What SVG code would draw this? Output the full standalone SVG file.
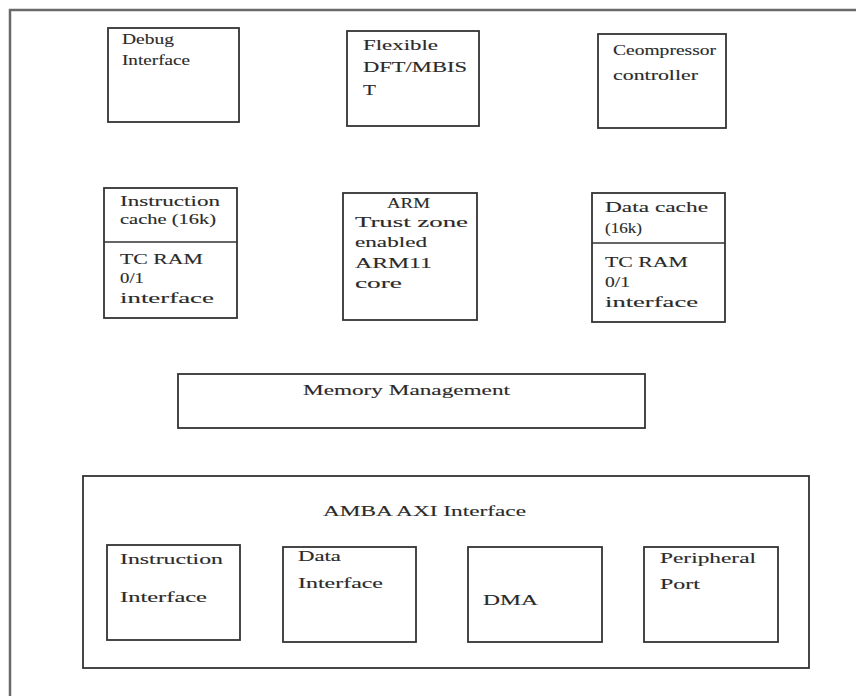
<svg xmlns="http://www.w3.org/2000/svg" width="856" height="696" viewBox="0 0 856 696">
<style>
.box{fill:#fff;stroke:#333;stroke-width:1.8}
.div{stroke:#333;stroke-width:1.6}
.frame{fill:none;stroke:#6a6a6a;stroke-width:2.5}
text{font-family:"Liberation Serif","Times New Roman",serif;font-size:15px;fill:#2a2a2a;stroke:#2a2a2a;stroke-width:0.12}
</style>
<rect width="856" height="696" fill="#fff"/>
<path class="frame" d="M10,696 V10 H856"/>
<g id="connectors"/>
<g id="debug">
<rect class="box" x="108" y="28" width="131" height="94"/>
<text x="122" y="44" font-size="14" textLength="52" lengthAdjust="spacingAndGlyphs">Debug</text>
<text x="122" y="65" font-size="14" textLength="68" lengthAdjust="spacingAndGlyphs">Interface</text>
</g>
<g id="dft">
<rect class="box" x="347" y="31" width="132" height="95"/>
<text x="363" y="50" font-size="16" textLength="75" lengthAdjust="spacingAndGlyphs">Flexible</text>
<text x="363" y="72" font-size="16" textLength="104" lengthAdjust="spacingAndGlyphs">DFT/MBIS</text>
<text x="363" y="95" font-size="16" textLength="13" lengthAdjust="spacingAndGlyphs">T</text>
</g>
<g id="ceompressor">
<rect class="box" x="598" y="34" width="128" height="94"/>
<text x="613" y="55" textLength="103" lengthAdjust="spacingAndGlyphs">Ceompressor</text>
<text x="613" y="80" textLength="85" lengthAdjust="spacingAndGlyphs">controller</text>
</g>
<g id="icache">
<rect class="box" x="104" y="188" width="133" height="130"/>
<line class="div" x1="104" y1="242" x2="237" y2="242"/>
<text x="120" y="206" textLength="100" lengthAdjust="spacingAndGlyphs">Instruction</text>
<text x="120" y="224" textLength="96" lengthAdjust="spacingAndGlyphs">cache (16k)</text>
<text x="120" y="264" textLength="83" lengthAdjust="spacingAndGlyphs">TC RAM</text>
<text x="120" y="283" textLength="24" lengthAdjust="spacingAndGlyphs">0/1</text>
<text x="120" y="303" textLength="94" lengthAdjust="spacingAndGlyphs">interface</text>
</g>
<g id="arm">
<rect class="box" x="343" y="193" width="134" height="127"/>
<text x="387" y="208" textLength="43" lengthAdjust="spacingAndGlyphs">ARM</text>
<text x="355" y="227" textLength="113" lengthAdjust="spacingAndGlyphs">Trust zone</text>
<text x="355" y="247" textLength="72" lengthAdjust="spacingAndGlyphs">enabled</text>
<text x="355" y="268" textLength="77" lengthAdjust="spacingAndGlyphs">ARM11</text>
<text x="355" y="288" textLength="47" lengthAdjust="spacingAndGlyphs">core</text>
</g>
<g id="dcache">
<rect class="box" x="592" y="193" width="133" height="129"/>
<line class="div" x1="592" y1="243" x2="725" y2="243"/>
<text x="605" y="212" textLength="103" lengthAdjust="spacingAndGlyphs">Data cache</text>
<text x="605" y="233" textLength="37" lengthAdjust="spacingAndGlyphs">(16k)</text>
<text x="605" y="267" textLength="83" lengthAdjust="spacingAndGlyphs">TC RAM</text>
<text x="605" y="287" textLength="25" lengthAdjust="spacingAndGlyphs">0/1</text>
<text x="605" y="307" textLength="93" lengthAdjust="spacingAndGlyphs">interface</text>
</g>
<g id="mmu">
<rect class="box" x="178" y="374" width="467" height="54"/>
<text x="303" y="395" textLength="207" lengthAdjust="spacingAndGlyphs">Memory Management</text>
</g>
<g id="amba">
<rect class="box" x="83" y="476" width="726" height="192"/>
<text x="323" y="516" textLength="203" lengthAdjust="spacingAndGlyphs">AMBA AXI Interface</text>
</g>
<g id="instr-if">
<rect class="box" x="107" y="545" width="133" height="95"/>
<text x="120" y="564" textLength="103" lengthAdjust="spacingAndGlyphs">Instruction</text>
<text x="120" y="602" textLength="87" lengthAdjust="spacingAndGlyphs">Interface</text>
</g>
<g id="data-if">
<rect class="box" x="283" y="547" width="133" height="95"/>
<text x="298" y="561" textLength="43" lengthAdjust="spacingAndGlyphs">Data</text>
<text x="298" y="588" textLength="85" lengthAdjust="spacingAndGlyphs">Interface</text>
</g>
<g id="dma">
<rect class="box" x="468" y="547" width="134" height="95"/>
<text x="483" y="605" textLength="55" lengthAdjust="spacingAndGlyphs">DMA</text>
</g>
<g id="peripheral">
<rect class="box" x="644" y="547" width="134" height="95"/>
<text x="660" y="563" textLength="96" lengthAdjust="spacingAndGlyphs">Peripheral</text>
<text x="660" y="589" textLength="40" lengthAdjust="spacingAndGlyphs">Port</text>
</g>
</svg>
